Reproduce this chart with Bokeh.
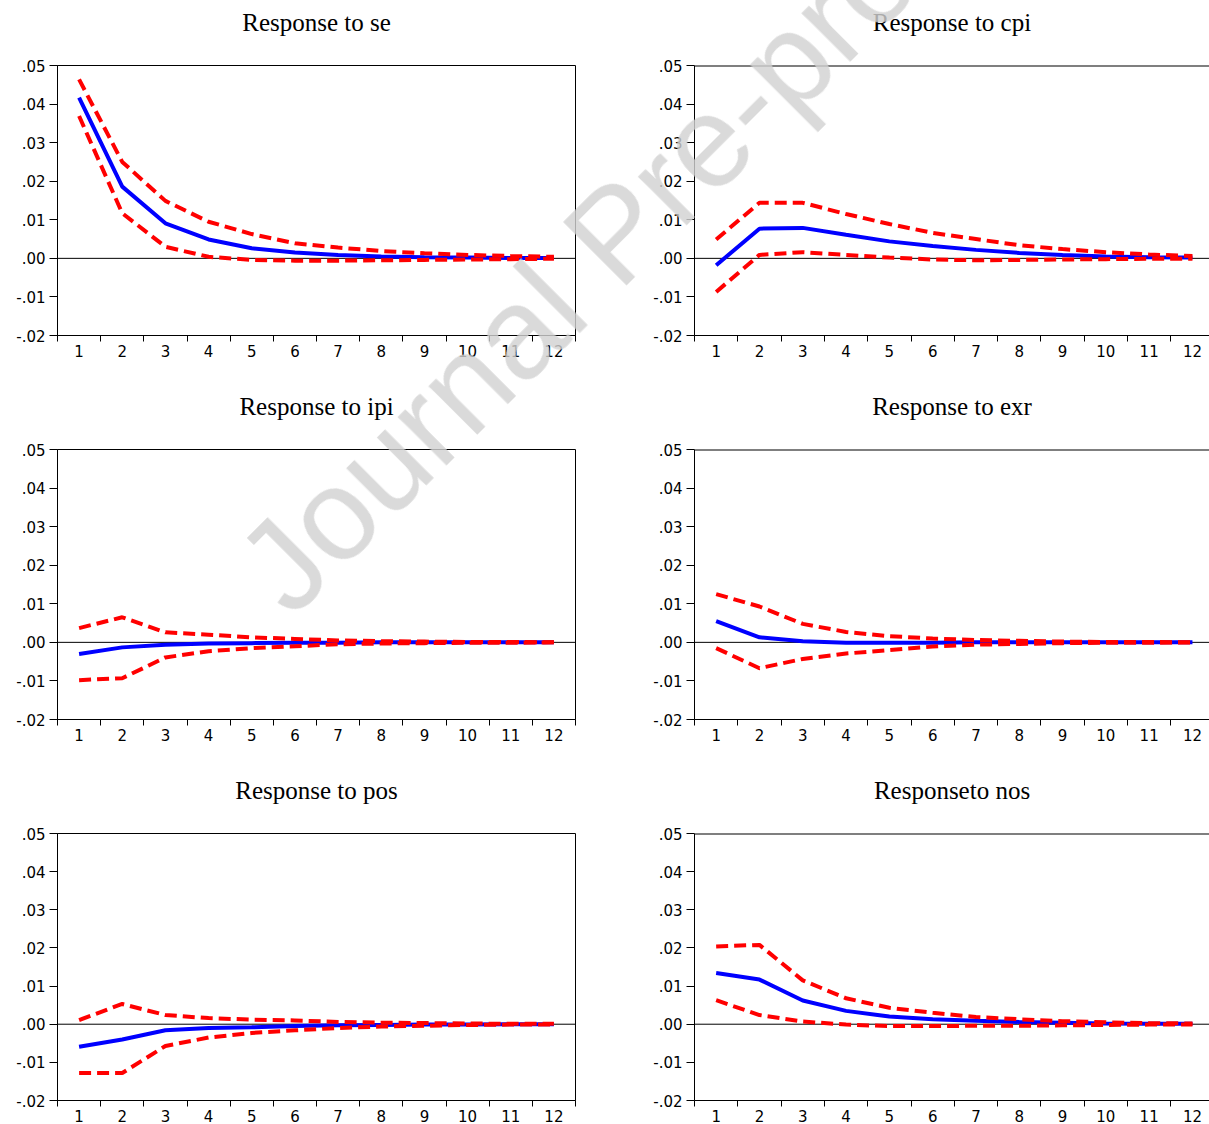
from bokeh.plotting import figure
from bokeh.layouts import gridplot, column
from bokeh.models import FixedTicker, Span, Range1d, Div, LinearAxis
from bokeh.embed import file_html
from bokeh.resources import INLINE

# ---------------- data ----------------
periods = list(range(1, 13))
x_tick_labels = [str(k) for k in periods]
y_ticks = [-0.02, -0.01, 0.0, 0.01, 0.02, 0.03, 0.04, 0.05]
y_tick_labels = ["-.02", "-.01", ".00", ".01", ".02", ".03", ".04", ".05"]

titles = ["Response to se", "Response to cpi", "Response to ipi",
          "Response to exr", "Response to pos", "Responseto nos"]

se_resp = [0.0417, 0.0186, 0.0091, 0.0049, 0.0026, 0.0015, 0.0009, 0.0005, 0.0003, 0.0002, 0.0001, 0.0001]
se_upper = [0.0464, 0.0250, 0.0149, 0.0095, 0.0063, 0.0039, 0.0028, 0.0019, 0.0013, 0.0009, 0.0006, 0.0004]
se_lower = [0.0369, 0.0117, 0.0030, 0.0004, -0.0004, -0.0006, -0.0006, -0.0005, -0.0004, -0.0003, -0.0002, -0.0001]

cpi_resp = [-0.0018, 0.0077, 0.0079, 0.0061, 0.0044, 0.0032, 0.0022, 0.0014, 0.0009, 0.0005, 0.0003, 0.0002]
cpi_upper = [0.0049, 0.0144, 0.0144, 0.0115, 0.0089, 0.0066, 0.0050, 0.0034, 0.0024, 0.0016, 0.0010, 0.0006]
cpi_lower = [-0.0087, 0.0009, 0.0016, 0.0009, 0.0002, -0.0003, -0.0005, -0.0004, -0.0003, -0.0002, -0.0001, -0.0001]

ipi_resp = [-0.0030, -0.0013, -0.0006, -0.0003, -0.0002, -0.0001, -0.0001, 0.0, 0.0, 0.0, 0.0, 0.0]
ipi_upper = [0.0037, 0.0065, 0.0026, 0.0020, 0.0013, 0.0009, 0.0005, 0.0003, 0.0002, 0.0001, 0.0001, 0.0]
ipi_lower = [-0.0098, -0.0093, -0.0039, -0.0023, -0.0015, -0.0010, -0.0005, -0.0003, -0.0002, -0.0001, -0.0001, 0.0]

exr_resp = [0.0055, 0.0013, 0.0003, -0.0001, -0.0001, -0.0001, 0.0, 0.0, 0.0, 0.0, 0.0, 0.0]
exr_upper = [0.0125, 0.0093, 0.0048, 0.0027, 0.0016, 0.0010, 0.0006, 0.0004, 0.0002, 0.0001, 0.0001, 0.0]
exr_lower = [-0.0015, -0.0067, -0.0043, -0.0029, -0.0020, -0.0011, -0.0006, -0.0004, -0.0002, -0.0001, -0.0001, 0.0]

pos_resp = [-0.0059, -0.0040, -0.0016, -0.0010, -0.0008, -0.0005, -0.0003, -0.0002, -0.0001, -0.0001, 0.0, 0.0]
pos_upper = [0.0011, 0.0053, 0.0024, 0.0016, 0.0012, 0.0010, 0.0006, 0.0004, 0.0003, 0.0002, 0.0001, 0.0001]
pos_lower = [-0.0128, -0.0128, -0.0057, -0.0035, -0.0023, -0.0016, -0.0010, -0.0006, -0.0004, -0.0002, -0.0001, -0.0001]

nos_resp = [0.0134, 0.0117, 0.0062, 0.0035, 0.0020, 0.0013, 0.0009, 0.0006, 0.0004, 0.0002, 0.0001, 0.0001]
nos_upper = [0.0204, 0.0208, 0.0115, 0.0068, 0.0043, 0.0030, 0.0019, 0.0013, 0.0008, 0.0005, 0.0003, 0.0002]
nos_lower = [0.0063, 0.0024, 0.0007, -0.0001, -0.0005, -0.0005, -0.0004, -0.0004, -0.0003, -0.0002, -0.0001, -0.0001]

watermark_text = "Journal Pre-proof"

panels = [
    (titles[0], se_resp, se_upper, se_lower),
    (titles[1], cpi_resp, cpi_upper, cpi_lower),
    (titles[2], ipi_resp, ipi_upper, ipi_lower),
    (titles[3], exr_resp, exr_upper, exr_lower),
    (titles[4], pos_resp, pos_upper, pos_lower),
    (titles[5], nos_resp, nos_upper, nos_lower),
]

# ---------------- layout constants ----------------
COL_W = [610, 599]
BORDER_L = [57, 84]
BORDER_R = [35, 0]
ROW_H = [365, 384, 375]
BORDER_T = [65, 84, 84]
FRAME_H = 270
CAT_PX_RIGHT = 43.3
TITLE_GAP = 30
Y0, Y1 = y_ticks[0], y_ticks[-1]

TICK_FONT = "DejaVu Sans"
TICK_SIZE = "15px"

x_bounds = [k - 0.5 for k in periods] + [periods[-1] + 0.5]

# watermark: baseline start (page px), size
WM_X, WM_Y = 292, 620
WM_SIZE = 130
WM_BASE = 110   # baseline offset inside a 130px line box


def make_panel(i):
    r, c = divmod(i, 2)
    title, resp, up, lo = panels[i]
    frame_w = COL_W[c] - BORDER_L[c] - BORDER_R[c]
    if c == 0:
        x_end = x_bounds[-1]
    else:
        x_end = x_bounds[0] + frame_w / CAT_PX_RIGHT
    last_row = (r == 2)
    p = figure(width=COL_W[c], height=ROW_H[r],
               x_range=Range1d(x_bounds[0], x_end), y_range=Range1d(Y0, Y1),
               output_backend="svg", toolbar_location=None,
               min_border_left=BORDER_L[c], min_border_right=BORDER_R[c],
               min_border_top=BORDER_T[r],
               min_border_bottom=ROW_H[r] - BORDER_T[r] - FRAME_H)
    p.grid.visible = False
    p.background_fill_color = "white"
    p.border_fill_color = "white"

    # invisible spacer axis between frame and title (pushes the title upward)
    spacer = LinearAxis(ticker=FixedTicker(ticks=[periods[0]]), axis_line_color=None,
                        major_tick_line_color=None, minor_tick_line_color=None,
                        major_tick_out=TITLE_GAP, major_tick_in=0, minor_tick_out=0,
                        major_label_standoff=0, major_label_overrides={periods[0]: ""},
                        major_label_text_font_size="1px", major_label_text_color=None)
    p.add_layout(spacer, "above")

    p.title.text = title
    p.title.align = "center"
    p.title.vertical_align = "bottom"
    p.title.text_font = "Liberation Serif"
    p.title.text_font_size = "25px"
    p.title.text_font_style = "normal"
    p.title.text_color = "black"
    p.title.standoff = 0

    if c == 0:
        p.outline_line_color = "black"
        p.outline_line_width = 1
    else:
        p.outline_line_color = None
        p.add_layout(Span(location=Y1, dimension="width", line_color="black", line_width=2))

    # x axis: labels at periods, tick marks at category boundaries
    xa = p.below[0]
    xa.ticker = FixedTicker(ticks=periods, minor_ticks=x_bounds)
    xa.major_label_overrides = dict(zip(periods, x_tick_labels))
    xa.major_tick_line_color = None
    xa.major_tick_in = 0
    xa.major_tick_out = 0 if last_row else 6
    xa.major_label_standoff = 3
    xa.minor_tick_line_color = "black"
    xa.minor_tick_out = 6
    xa.minor_tick_in = 0
    xa.axis_line_color = "black"
    xa.major_label_text_font = TICK_FONT
    xa.major_label_text_font_size = TICK_SIZE
    xa.major_label_text_color = "black"

    ya = p.left[0]
    ya.ticker = FixedTicker(ticks=y_ticks)
    ya.major_label_overrides = dict(zip(y_ticks, y_tick_labels))
    ya.major_tick_out = 8
    ya.major_tick_in = 0
    ya.minor_tick_line_color = None
    ya.axis_line_color = "black"
    ya.major_tick_line_color = "black"
    ya.major_label_standoff = 4
    ya.major_label_text_font = TICK_FONT
    ya.major_label_text_font_size = TICK_SIZE
    ya.major_label_text_color = "black"

    p.add_layout(Span(location=0, dimension="width", line_color="black",
                      line_width=1, level="underlay"))

    p.line(periods, resp, line_color="#0000FF", line_width=4)
    p.line(periods, up, line_color="#FF0000", line_width=4, line_dash="12 6")
    p.line(periods, lo, line_color="#FF0000", line_width=4, line_dash="12 6")
    return p


figs = [make_panel(i) for i in range(6)]
grid = gridplot([[figs[0], figs[1]], [figs[2], figs[3]], [figs[4], figs[5]]],
                toolbar_location=None)

wm_html = ('<div style="font-family: \'Liberation Sans\'; font-size: %dpx; line-height: %dpx; '
           'color: rgba(210,210,210,0.81); white-space: nowrap; margin: 0; padding: 0;">%s</div>'
           % (WM_SIZE, WM_SIZE, watermark_text))
wm = Div(text=wm_html, width=1400, height=WM_SIZE,
         styles={"position": "fixed", "left": "%dpx" % WM_X, "top": "%dpx" % (WM_Y - WM_BASE),
                 "transform": "rotate(-45deg)", "transform-origin": "0px %dpx" % WM_BASE,
                 "pointer-events": "none", "z-index": "10", "margin": "0", "padding": "0"})

layout = column(grid, wm)
open("out.html", "w").write(file_html(layout, INLINE))
